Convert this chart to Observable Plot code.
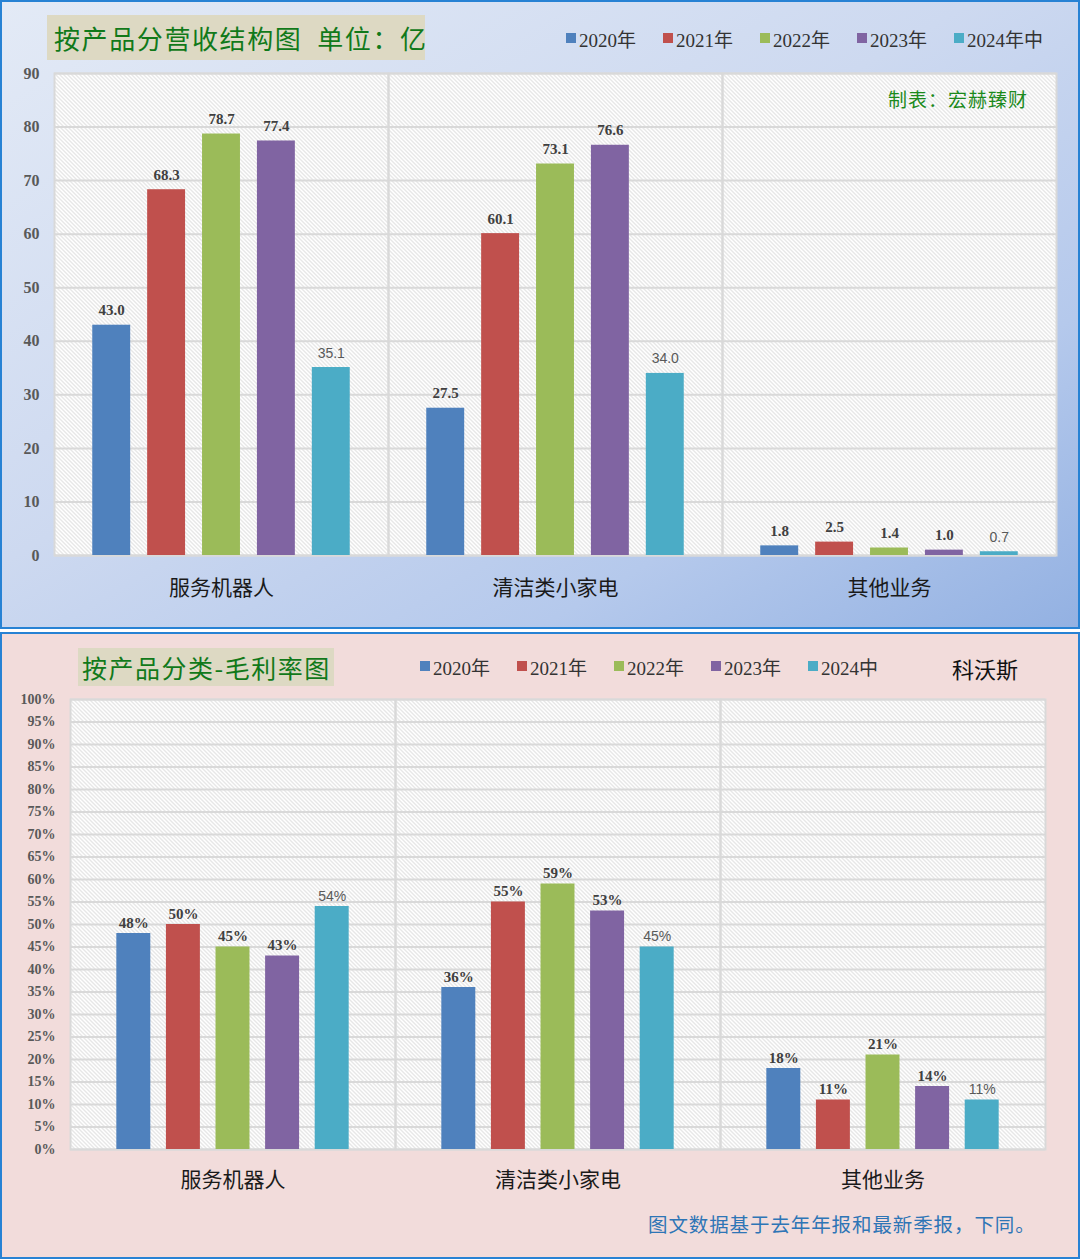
<!DOCTYPE html>
<html>
<head>
<meta charset="utf-8">
<script src="https://cdn.jsdelivr.net/npm/d3@7"></script>
<script src="https://cdn.jsdelivr.net/npm/@observablehq/plot@0.6"></script>
<style>
  html, body { margin: 0; padding: 0; background: #ffffff; }
  body { position: relative; width: 1080px; height: 1259px; overflow: hidden;
         font-family: "Liberation Serif", "Noto Sans CJK SC", serif; }
  .panel { position: absolute; left: 0; width: 1080px; box-sizing: border-box; border: 2px solid #2782d4; }
  #panelTop { top: 0; height: 629px; background: linear-gradient(150deg, #e3eaf6 0%, #cdd9f0 45%, #b5c9ec 75%, #93b1e2 100%); }
  #panelBottom { top: 632px; height: 627px; background: #f2dcdb; }
  .abs { position: absolute; }
  .titlebox { background: #ddd9c3; color: #11791a; font-family: "Noto Sans CJK SC", sans-serif;
              box-sizing: border-box; white-space: nowrap; }
  .legend { display: flex; align-items: center; font-family: "Liberation Serif", "Noto Sans CJK SC", serif;
            color: #333333; white-space: nowrap; }
  .legend .item { display: flex; align-items: center; }
  .legend .sw { width: 10px; height: 10px; margin-right: 3px; }
  .cjk { font-family: "Noto Sans CJK SC", sans-serif; white-space: nowrap; z-index: 5; }
  svg { overflow: visible; }
</style>
</head>
<body>
<div id="panelTop" class="panel"></div>
<div id="panelBottom" class="panel"></div>

<div id="chartTop" class="abs" style="left:0; top:60px;"></div>
<div id="chartBottom" class="abs" style="left:0; top:690px;"></div>

<div class="abs titlebox" style="left:47px; top:15px; width:378px; height:45px; line-height:45px; font-size:26px; letter-spacing:1.6px; padding-left:7px;">按产品分营收结构图&nbsp;&nbsp;单位：亿</div>
<div id="legendTop" class="abs legend" style="left:566px; top:25px; height:26px; font-size:19px; gap:27px;"></div>
<div class="abs cjk" style="left:888px; top:85px; font-size:19px; letter-spacing:1px; color:#1b8a1b;">制表：宏赫臻财</div>

<div class="abs titlebox" style="left:78px; top:648px; width:256px; height:38px; line-height:38px; font-size:25px; letter-spacing:1.5px; padding-left:4px;">按产品分类-毛利率图</div>
<div id="legendBottom" class="abs legend" style="left:420px; top:653px; height:26px; font-size:19px; gap:27px;"></div>
<div class="abs cjk" style="left:952px; top:652px; font-size:22px; color:#111111;">科沃斯</div>
<div class="abs cjk" style="left:648px; top:1209px; font-size:19.5px; letter-spacing:0.9px; color:#2e75b6;">图文数据基于去年年报和最新季报，下同。</div>

<script>
// ---------- data ----------
const categories = ["服务机器人", "清洁类小家电", "其他业务"];
const yearKeys = ["2020", "2021", "2022", "2023", "2024"];
const revenueLegend = ["2020年", "2021年", "2022年", "2023年", "2024年中"];
const marginLegend = ["2020年", "2021年", "2022年", "2023年", "2024中"];
const seriesColors = ["#4f81bd", "#c0504d", "#9bbb59", "#8064a2", "#4bacc6"];

// revenue (亿) per category, series order 2020..2024H1
const revenueRobot = [43.0, 68.3, 78.7, 77.4, 35.1];
const revenueClean = [27.5, 60.1, 73.1, 76.6, 34.0];
const revenueOther = [1.8, 2.5, 1.4, 1.0, 0.7];

// gross margin (%) per category
const marginRobot = [48, 50, 45, 43, 54];
const marginClean = [36, 55, 59, 53, 45];
const marginOther = [18, 11, 21, 14, 11];

const revenueTicks = [0, 10, 20, 30, 40, 50, 60, 70, 80, 90];
const marginTicks = [0, 5, 10, 15, 20, 25, 30, 35, 40, 45, 50, 55, 60, 65, 70, 75, 80, 85, 90, 95, 100];

// ---------- helpers ----------
function toRows(seriesByCategory) {
  return categories.flatMap((cat, i) =>
    yearKeys.map((year, j) => ({ cat, year, value: seriesByCategory[i][j] })));
}

function buildLegend(el, labels) {
  labels.forEach((label, i) => {
    const item = document.createElement("div");
    item.className = "item";
    const sw = document.createElement("span");
    sw.className = "sw";
    sw.style.background = seriesColors[i];
    const tx = document.createElement("span");
    tx.textContent = label;
    item.appendChild(sw);
    item.appendChild(tx);
    el.appendChild(item);
  });
}

function addHatch(svg, id) {
  const ns = "http://www.w3.org/2000/svg";
  const defs = document.createElementNS(ns, "defs");
  defs.innerHTML =
    `<pattern id="${id}" width="4" height="4" patternUnits="userSpaceOnUse">` +
    `<rect width="4" height="4" fill="#ffffff"></rect>` +
    `<path d="M-1,-1 L5,5 M3,-1 L5,1 M-1,3 L1,5" stroke="#c9c9c9" stroke-width="0.9"></path>` +
    `</pattern>`;
  svg.insertBefore(defs, svg.firstChild);
}

function barChart(cfg) {
  const data = toRows(cfg.series);
  const svg = Plot.plot({
    width: cfg.width,
    height: cfg.height,
    marginTop: cfg.marginTop,
    marginBottom: cfg.marginBottom,
    marginLeft: cfg.marginLeft,
    marginRight: cfg.marginRight,
    style: { background: "transparent", overflow: "visible" },
    fx: { domain: categories, padding: 0, label: null },
    x: { domain: yearKeys, paddingInner: cfg.paddingInner, paddingOuter: cfg.paddingOuter, round: false, axis: null },
    y: { domain: cfg.yDomain, label: null },
    color: { domain: yearKeys, range: seriesColors },
    marks: [
      Plot.frame({ fill: `url(#${cfg.hatchId})` }),
      Plot.gridY(cfg.ticks, { stroke: "#d9d9d9", strokeOpacity: 1, strokeWidth: 2 }),
      Plot.frame({ stroke: "#d9d9d9", strokeWidth: 2 }),
      Plot.barY(data, { fx: "cat", x: "year", y: "value", fill: "year" }),
      Plot.text(data, {
        filter: d => d.year !== "2024",
        fx: "cat", x: "year", y: "value", text: d => cfg.labelFormat(d.value),
        lineAnchor: "bottom", dy: cfg.labelDy,
        fontFamily: "Liberation Serif", fontWeight: "bold", fontSize: cfg.labelSize, fill: "#404040"
      }),
      Plot.text(data, {
        filter: d => d.year === "2024",
        fx: "cat", x: "year", y: "value", text: d => cfg.labelFormat(d.value),
        lineAnchor: "bottom", dy: cfg.labelDy,
        fontFamily: "Liberation Sans", fontWeight: "normal", fontSize: cfg.labelSize - 1, fill: "#595959"
      }),
      Plot.axisY({
        ticks: cfg.ticks, tickFormat: cfg.tickFormat, tickSize: 0, tickPadding: cfg.yTickPadding,
        fontFamily: "Liberation Serif", fontWeight: "bold", fontSize: cfg.yTickSize, color: "#595959", label: null
      }),
      Plot.axisFx({
        anchor: "bottom", tickSize: 0, tickPadding: cfg.fxPadding, label: null,
        fontFamily: "Noto Sans CJK SC", fontSize: cfg.fxSize, color: "#1a1a1a"
      })
    ]
  });
  addHatch(svg, cfg.hatchId);
  return svg;
}

// ---------- render ----------
buildLegend(document.getElementById("legendTop"), revenueLegend);
buildLegend(document.getElementById("legendBottom"), marginLegend);

document.getElementById("chartTop").appendChild(barChart({
  series: [revenueRobot, revenueClean, revenueOther],
  width: 1080, height: 560,
  marginTop: 13, marginBottom: 65, marginLeft: 53, marginRight: 23,
  paddingInner: 0.309, paddingOuter: 0.697,
  yDomain: [0, 90], ticks: revenueTicks, tickFormat: d => String(d),
  labelFormat: v => v.toFixed(1), labelDy: -10, labelSize: 15,
  yTickPadding: 15, yTickSize: 16,
  fxPadding: 25, fxSize: 21,
  hatchId: "hatchTop"
}));

document.getElementById("chartBottom").appendChild(barChart({
  series: [marginRobot, marginClean, marginOther],
  width: 1080, height: 520,
  marginTop: 9, marginBottom: 61, marginLeft: 70, marginRight: 35,
  paddingInner: 0.315, paddingOuter: 0.934,
  yDomain: [0, 100], ticks: marginTicks, tickFormat: d => d + "%",
  labelFormat: v => v + "%", labelDy: -6, labelSize: 15,
  yTickPadding: 15, yTickSize: 14,
  fxPadding: 23, fxSize: 21,
  hatchId: "hatchBottom"
}));
</script>
</body>
</html>
